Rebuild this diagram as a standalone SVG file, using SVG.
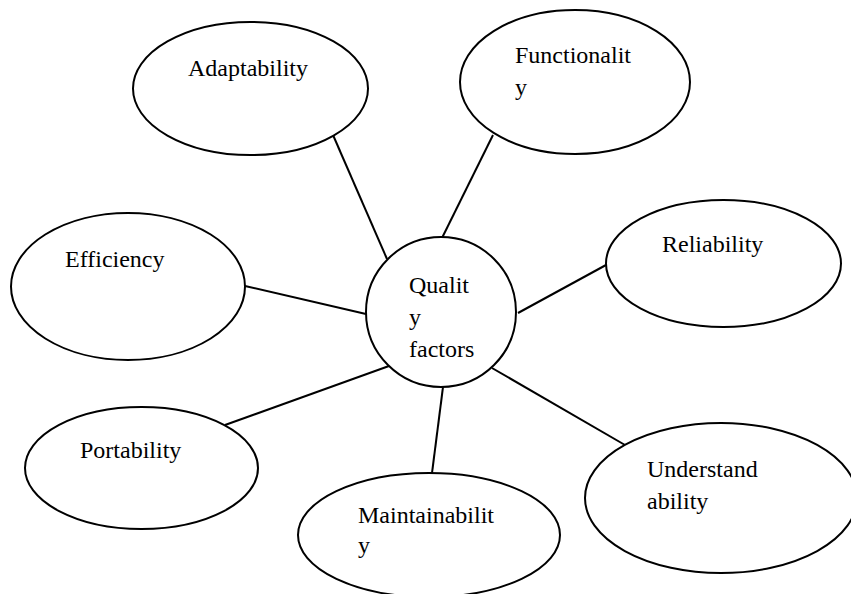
<svg xmlns="http://www.w3.org/2000/svg" width="851" height="594" viewBox="0 0 851 594">
  <style>
    .node { fill: #ffffff; stroke: #000000; stroke-width: 2; }
    .edge { stroke: #000000; stroke-width: 2; fill: none; }
    .label { font-family: "Liberation Serif", "Times New Roman", serif; font-size: 24px; fill: #000000; }
  </style>
  <rect width="851" height="594" fill="#ffffff"/>

  <!-- spokes from the hub to each factor -->
  <g id="connectors">
    <line class="edge" x1="333" y1="135" x2="387" y2="259"/>
    <line class="edge" x1="493" y1="135" x2="442" y2="238"/>
    <line class="edge" x1="245" y1="286" x2="366" y2="314"/>
    <line class="edge" x1="606" y1="265" x2="518" y2="313"/>
    <line class="edge" x1="225" y1="425" x2="389" y2="366"/>
    <line class="edge" x1="432" y1="473" x2="443" y2="387"/>
    <line class="edge" x1="625" y1="445" x2="492" y2="368"/>
  </g>

  <g id="adaptability">
    <ellipse class="node" cx="250.5" cy="88.5" rx="117.5" ry="66.5"/>
    <text class="label" x="188" y="76">Adaptability</text>
  </g>

  <g id="functionality">
    <ellipse class="node" cx="575" cy="82" rx="115" ry="72"/>
    <text class="label" x="515" y="63">Functionalit</text>
    <text class="label" x="515" y="95">y</text>
  </g>

  <g id="efficiency">
    <ellipse class="node" cx="128" cy="286.5" rx="117" ry="73.5"/>
    <text class="label" x="65" y="267">Efficiency</text>
  </g>

  <g id="quality-factors">
    <circle class="node" cx="441" cy="312" r="75"/>
    <text class="label" x="409" y="293">Qualit</text>
    <text class="label" x="409" y="325">y</text>
    <text class="label" x="409" y="357">factors</text>
  </g>

  <g id="reliability">
    <ellipse class="node" cx="723.5" cy="263.5" rx="117.5" ry="63.5"/>
    <text class="label" x="662" y="252">Reliability</text>
  </g>

  <g id="portability">
    <ellipse class="node" cx="141.5" cy="468" rx="116.5" ry="61"/>
    <text class="label" x="80" y="458">Portability</text>
  </g>

  <g id="maintainability">
    <ellipse class="node" cx="429" cy="535" rx="131" ry="62"/>
    <text class="label" x="358" y="523">Maintainabilit</text>
    <text class="label" x="358" y="553">y</text>
  </g>

  <g id="understandability">
    <ellipse class="node" cx="721" cy="498" rx="136" ry="75"/>
    <text class="label" x="647" y="477">Understand</text>
    <text class="label" x="647" y="509">ability</text>
  </g>
</svg>
